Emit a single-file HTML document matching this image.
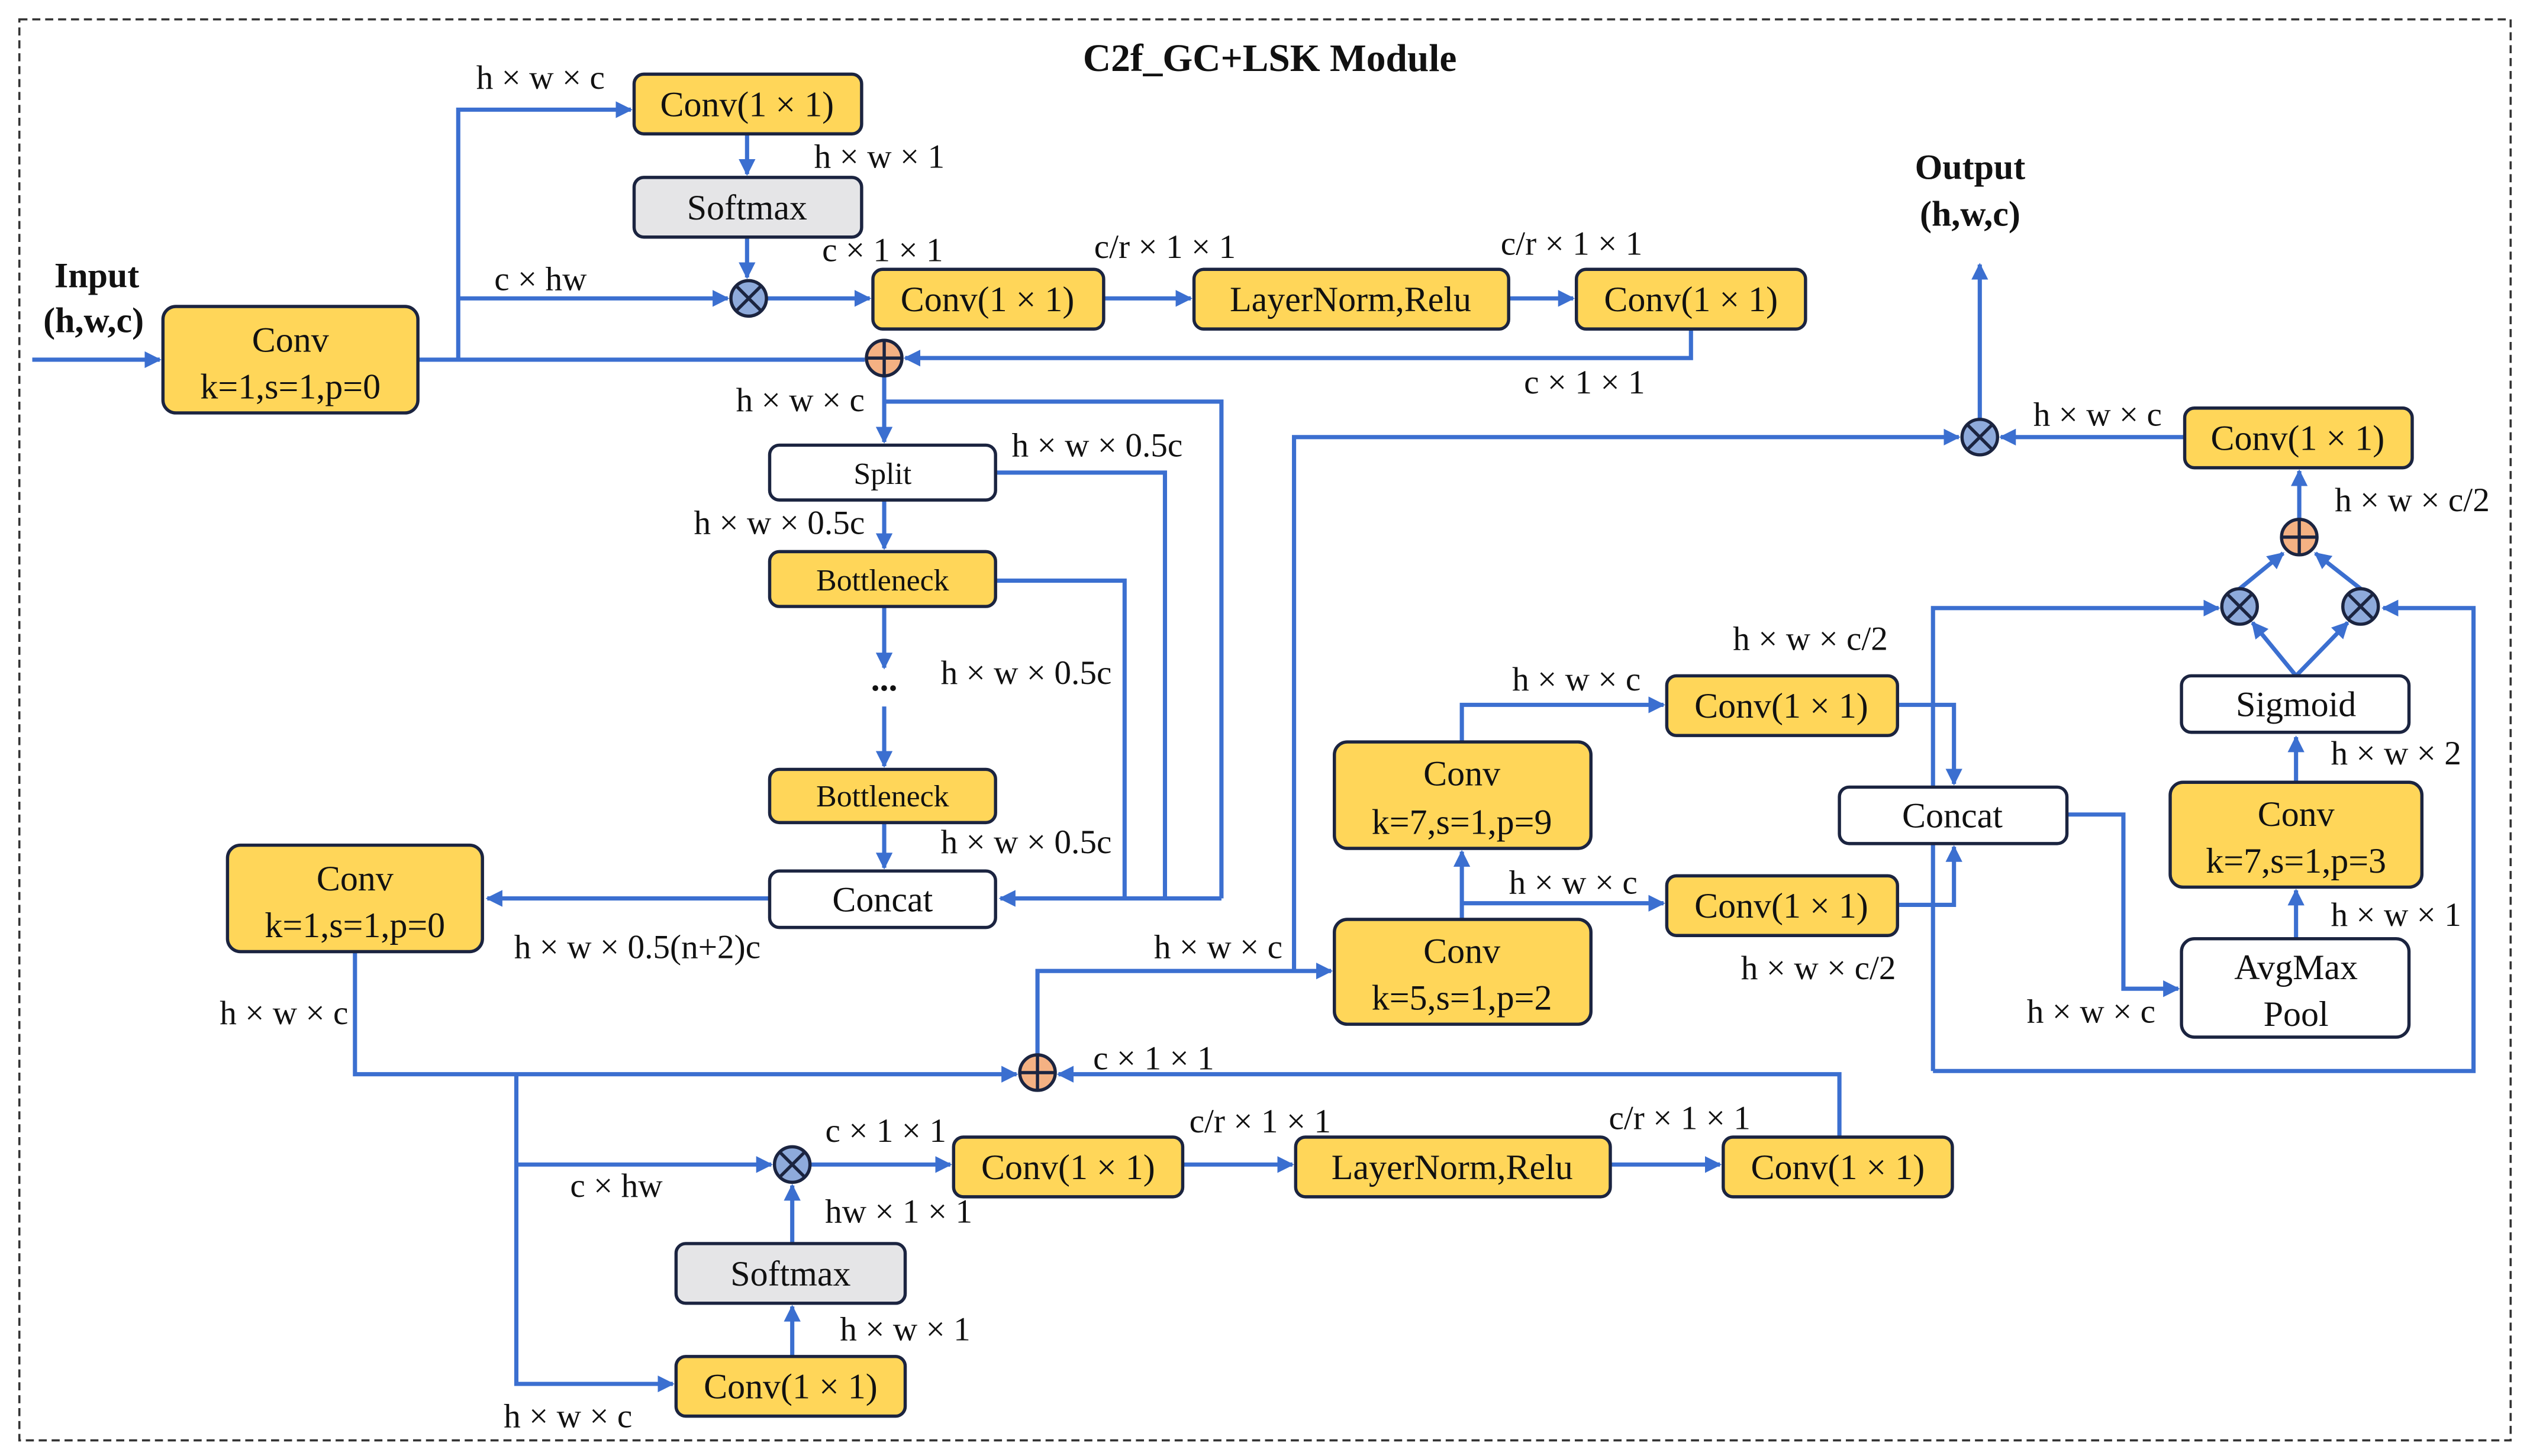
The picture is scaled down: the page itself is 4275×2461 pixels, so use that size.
<!DOCTYPE html>
<html><head><meta charset="utf-8"><style>
html,body{margin:0;padding:0;background:#fff;}
svg{display:block;}
text{font-family:"Liberation Serif","Times New Roman",serif;fill:#111;}
</style></head><body>
<svg width="4275" height="2461" viewBox="0 0 1568 902.7" preserveAspectRatio="none" xmlns="http://www.w3.org/2000/svg" font-family="Liberation Serif, serif">
<defs>
<marker id="a" viewBox="0 0 10 10" refX="9" refY="5" markerWidth="4" markerHeight="4" orient="auto" markerUnits="strokeWidth"><path d="M0,0 L10,5 L0,10 z" fill="#3b6fd0"/></marker>
<g id="mul"><circle r="11" fill="#8eaadb" stroke="#1b2440" stroke-width="2"/><path d="M-7.8,-7.8 L7.8,7.8 M-7.8,7.8 L7.8,-7.8" stroke="#1b2440" stroke-width="2"/></g>
<g id="add"><circle r="11" fill="#f4b183" stroke="#1b2440" stroke-width="2"/><path d="M-11,0 L11,0 M0,-11 L0,11" stroke="#1b2440" stroke-width="2"/></g>
</defs>
<rect x="0" y="0" width="1568" height="903" fill="#fff"/>
<rect x="12" y="12" width="1544" height="881" fill="none" stroke="#333" stroke-width="1.3" stroke-dasharray="5,3"/>
<text x="787" y="44" font-size="24" font-weight="bold" text-anchor="middle">C2f_GC+LSK Module</text>
<text x="60" y="178" font-size="22" font-weight="bold" text-anchor="middle">Input</text>
<text x="58" y="206" font-size="22" font-weight="bold" text-anchor="middle">(h,w,c)</text>
<text x="1221" y="111" font-size="22" font-weight="bold" text-anchor="middle">Output</text>
<text x="1221" y="140" font-size="22" font-weight="bold" text-anchor="middle">(h,w,c)</text>

<g fill="none" stroke="#3b6fd0" stroke-width="2.6">
<path d="M20,223 H99" marker-end="url(#a)"/>
<path d="M259,223 H536"/>
<path d="M284,223 V68 H391" marker-end="url(#a)"/>
<path d="M463,83 V108" marker-end="url(#a)"/>
<path d="M463,147 V172" marker-end="url(#a)"/>
<path d="M284,185 H451" marker-end="url(#a)"/>
<path d="M475,185 H539" marker-end="url(#a)"/>
<path d="M684,185 H738" marker-end="url(#a)"/>
<path d="M935,185 H975" marker-end="url(#a)"/>
<path d="M1048,204 V222 H561" marker-end="url(#a)"/>
<path d="M548,233 V274" marker-end="url(#a)"/>
<path d="M548,249 H757 V557"/>
<path d="M617,293 H722 V557"/>
<path d="M617,360 H697 V557"/>
<path d="M757,557 H620" marker-end="url(#a)"/>
<path d="M548,310 V340" marker-end="url(#a)"/>
<path d="M548,376 V414" marker-end="url(#a)"/>
<path d="M548,438 V475" marker-end="url(#a)"/>
<path d="M548,510 V538" marker-end="url(#a)"/>
<path d="M477,557 H302" marker-end="url(#a)"/>
<path d="M220,590 V666 H630" marker-end="url(#a)"/>
<path d="M320,666 V858 H417" marker-end="url(#a)"/>
<path d="M320,722 H478" marker-end="url(#a)"/>
<path d="M491,841 V810" marker-end="url(#a)"/>
<path d="M491,771 V735" marker-end="url(#a)"/>
<path d="M502,722 H589" marker-end="url(#a)"/>
<path d="M733,722 H801" marker-end="url(#a)"/>
<path d="M998,722 H1066" marker-end="url(#a)"/>
<path d="M1140,705 V666 H656" marker-end="url(#a)"/>
<path d="M643,654 V602 H825" marker-end="url(#a)"/>
<path d="M802,602 V271 H1214" marker-end="url(#a)"/>
<path d="M906,570 V528" marker-end="url(#a)"/>
<path d="M906,560 H1031" marker-end="url(#a)"/>
<path d="M906,460 V437 H1031" marker-end="url(#a)"/>
<path d="M1176,437 H1211 V486" marker-end="url(#a)"/>
<path d="M1176,561 H1211 V525" marker-end="url(#a)"/>
<path d="M1281,505 H1316 V613 H1350" marker-end="url(#a)"/>
<path d="M1198,664 V377 H1375" marker-end="url(#a)"/>
<path d="M1198,664 H1533 V377 H1477" marker-end="url(#a)"/>
<path d="M1423,582 V552" marker-end="url(#a)"/>
<path d="M1423,485 V457" marker-end="url(#a)"/>
<path d="M1423,419 L1396,386" marker-end="url(#a)"/>
<path d="M1423,419 L1455,386" marker-end="url(#a)"/>
<path d="M1388,365 L1415,343" marker-end="url(#a)"/>
<path d="M1463,365 L1435,343" marker-end="url(#a)"/>
<path d="M1425,322 V292" marker-end="url(#a)"/>
<path d="M1354,271 H1240" marker-end="url(#a)"/>
<path d="M1227,260 V164" marker-end="url(#a)"/>
</g>

<use href="#mul" x="464" y="185"/>
<use href="#add" x="548" y="222"/>
<use href="#add" x="643" y="665"/>
<use href="#mul" x="491" y="722"/>
<use href="#mul" x="1227" y="271"/>
<use href="#mul" x="1388" y="376"/>
<use href="#mul" x="1463" y="376"/>
<use href="#add" x="1425" y="333"/>

<g stroke="#1b2440" stroke-width="2">
<rect x="101" y="190" width="158" height="66" rx="8" fill="#ffd659"/>
<rect x="393" y="46" width="141" height="37" rx="6" fill="#ffd659"/>
<rect x="393" y="110" width="141" height="37" rx="6" fill="#e5e5e7"/>
<rect x="541" y="167" width="143" height="37" rx="6" fill="#ffd659"/>
<rect x="740" y="167" width="195" height="37" rx="6" fill="#ffd659"/>
<rect x="977" y="167" width="142" height="37" rx="6" fill="#ffd659"/>
<rect x="477" y="276" width="140" height="34" rx="6" fill="#fff"/>
<rect x="477" y="342" width="140" height="34" rx="6" fill="#ffd659"/>
<rect x="477" y="477" width="140" height="33" rx="6" fill="#ffd659"/>
<rect x="477" y="540" width="140" height="35" rx="6" fill="#fff"/>
<rect x="141" y="524" width="158" height="66" rx="8" fill="#ffd659"/>
<rect x="419" y="841" width="142" height="37" rx="6" fill="#ffd659"/>
<rect x="419" y="771" width="142" height="37" rx="6" fill="#e5e5e7"/>
<rect x="591" y="705" width="142" height="37" rx="6" fill="#ffd659"/>
<rect x="803" y="705" width="195" height="37" rx="6" fill="#ffd659"/>
<rect x="1068" y="705" width="142" height="37" rx="6" fill="#ffd659"/>
<rect x="827" y="570" width="159" height="65" rx="8" fill="#ffd659"/>
<rect x="827" y="460" width="159" height="66" rx="8" fill="#ffd659"/>
<rect x="1033" y="419" width="143" height="37" rx="6" fill="#ffd659"/>
<rect x="1033" y="543" width="143" height="37" rx="6" fill="#ffd659"/>
<rect x="1140" y="488" width="141" height="35" rx="6" fill="#fff"/>
<rect x="1352" y="582" width="141" height="61" rx="8" fill="#fff"/>
<rect x="1345" y="485" width="156" height="65" rx="8" fill="#ffd659"/>
<rect x="1352" y="419" width="141" height="35" rx="6" fill="#fff"/>
<rect x="1354" y="253" width="141" height="37" rx="6" fill="#ffd659"/>
</g>

<g font-size="22" text-anchor="middle">
<text x="180" y="218">Conv</text><text x="180" y="247">k=1,s=1,p=0</text>
<text x="463" y="72">Conv(1 × 1)</text>
<text x="463" y="136">Softmax</text>
<text x="612" y="193">Conv(1 × 1)</text>
<text x="837" y="193">LayerNorm,Relu</text>
<text x="1048" y="193">Conv(1 × 1)</text>
<text x="547" y="565">Concat</text>
<text x="220" y="552">Conv</text><text x="220" y="581">k=1,s=1,p=0</text>
<text x="490" y="867">Conv(1 × 1)</text>
<text x="490" y="797">Softmax</text>
<text x="662" y="731">Conv(1 × 1)</text>
<text x="900" y="731">LayerNorm,Relu</text>
<text x="1139" y="731">Conv(1 × 1)</text>
<text x="906" y="597">Conv</text><text x="906" y="626">k=5,s=1,p=2</text>
<text x="906" y="487">Conv</text><text x="906" y="517">k=7,s=1,p=9</text>
<text x="1104" y="445">Conv(1 × 1)</text>
<text x="1104" y="569">Conv(1 × 1)</text>
<text x="1210" y="513">Concat</text>
<text x="1423" y="607">AvgMax</text><text x="1423" y="636">Pool</text>
<text x="1423" y="512">Conv</text><text x="1423" y="541">k=7,s=1,p=3</text>
<text x="1423" y="444">Sigmoid</text>
<text x="1424" y="279">Conv(1 × 1)</text>
</g>
<g font-size="19" text-anchor="middle">
<text x="547" y="300">Split</text>
<text x="547" y="366">Bottleneck</text>
<text x="547" y="500">Bottleneck</text>
</g>
<text x="548" y="428" font-size="22" text-anchor="middle" font-weight="bold">...</text>

<g font-size="21" text-anchor="middle">
<text x="335" y="55">h × w × c</text>
<text x="545" y="104">h × w × 1</text>
<text x="335" y="180">c × hw</text>
<text x="547" y="162">c × 1 × 1</text>
<text x="722" y="160">c/r × 1 × 1</text>
<text x="974" y="158">c/r × 1 × 1</text>
<text x="982" y="244">c × 1 × 1</text>
<text x="496" y="255">h × w × c</text>
<text x="680" y="283">h × w × 0.5c</text>
<text x="483" y="331">h × w × 0.5c</text>
<text x="636" y="424">h × w × 0.5c</text>
<text x="636" y="529">h × w × 0.5c</text>
<text x="395" y="594">h × w × 0.5(n+2)c</text>
<text x="176" y="635">h × w × c</text>
<text x="382" y="742">c × hw</text>
<text x="352" y="885">h × w × c</text>
<text x="561" y="831">h × w × 1</text>
<text x="557" y="758">hw × 1 × 1</text>
<text x="549" y="708">c × 1 × 1</text>
<text x="781" y="702">c/r × 1 × 1</text>
<text x="1041" y="700">c/r × 1 × 1</text>
<text x="715" y="663">c × 1 × 1</text>
<text x="755" y="594">h × w × c</text>
<text x="975" y="554">h × w × c</text>
<text x="977" y="428">h × w × c</text>
<text x="1122" y="403">h × w × c/2</text>
<text x="1127" y="607">h × w × c/2</text>
<text x="1296" y="634">h × w × c</text>
<text x="1485" y="574">h × w × 1</text>
<text x="1485" y="474">h × w × 2</text>
<text x="1495" y="317">h × w × c/2</text>
<text x="1300" y="264">h × w × c</text>
</g>
</svg>
</body></html>
